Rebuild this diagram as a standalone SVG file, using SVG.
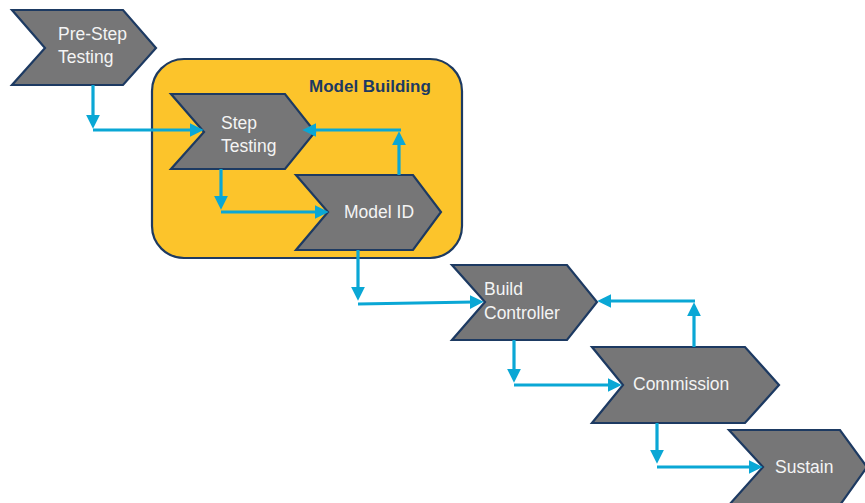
<svg xmlns="http://www.w3.org/2000/svg" width="865" height="503" viewBox="0 0 865 503">
  <style>
    .chev { fill: #767677; stroke: #1d3a62; stroke-width: 2.2; stroke-linejoin: miter; }
    .lbl { font-family: "Liberation Sans", Arial, sans-serif; font-size: 17.5px; fill: #f4f4f4; }
    .grp { fill: #fcc42b; stroke: #1d3a62; stroke-width: 2.2; }
    .grp-title { font-family: "Liberation Sans", Arial, sans-serif; font-size: 17px; font-weight: bold; fill: #1d3a62; }
    .conn { fill: none; stroke: #0aa7d5; stroke-width: 3.2; marker-end: url(#arrow); }
  </style>
  <defs>
    <marker id="arrow" markerUnits="userSpaceOnUse" markerWidth="14" markerHeight="14" viewBox="0 0 13 13" refX="4" refY="6.5" orient="auto">
      <path d="M0,0 L13,6.5 L0,13 z" fill="#0aa7d5"/>
    </marker>
  </defs>
  <rect width="865" height="503" fill="#ffffff"/>

  <!-- Model Building group -->
  <g id="model-building">
    <rect class="grp" x="152" y="59" width="310" height="199" rx="32" ry="32"/>
    <text class="grp-title" x="309" y="92">Model Building</text>
  </g>

  <g id="pre-step-testing">
    <polygon class="chev" points="12,10 123,10 156,48 123,85 12,85 45,48"/>
    <text class="lbl" x="58" y="40">Pre-Step</text>
    <text class="lbl" x="58" y="63">Testing</text>
  </g>

  <g id="step-testing">
    <polygon class="chev" points="171,94 285,94 315,132 285,169 171,169 204,132"/>
    <text class="lbl" x="221" y="129">Step</text>
    <text class="lbl" x="221" y="152">Testing</text>
  </g>

  <g id="model-id">
    <polygon class="chev" points="296,175 413,175 441,212 413,250 296,250 328,212"/>
    <text class="lbl" x="344" y="218">Model ID</text>
  </g>

  <g id="build-controller">
    <polygon class="chev" points="452,265 567,265 597,302 567,340 452,340 485,302"/>
    <text class="lbl" x="484" y="295">Build</text>
    <text class="lbl" x="484" y="319">Controller</text>
  </g>

  <g id="commission">
    <polygon class="chev" points="592,347 745,347 779,385 745,423 592,423 623,385"/>
    <text class="lbl" x="633" y="390">Commission</text>
  </g>

  <g id="sustain">
    <polygon class="chev" points="729,430 840,430 867,467 840,505 729,505 763,467"/>
    <text class="lbl" x="775" y="473">Sustain</text>
  </g>

  <!-- Connectors: each step drops down, then runs across to the next notch -->
  <g id="connectors">
    <path class="conn" d="M93,85 V119"/>
    <path class="conn" d="M93,130 H194"/>

    <path class="conn" d="M221,169 V200"/>
    <path class="conn" d="M221,212 H319"/>

    <path class="conn" d="M399,175 V141"/>
    <path class="conn" d="M401,130 H312"/>

    <path class="conn" d="M358,250 V291"/>
    <path class="conn" d="M358,304 L474,302"/>

    <path class="conn" d="M694,347 V312"/>
    <path class="conn" d="M695,301 H607"/>

    <path class="conn" d="M514,340 V373"/>
    <path class="conn" d="M514,385 H612"/>

    <path class="conn" d="M657,423 V454"/>
    <path class="conn" d="M657,467 H753"/>
  </g>
</svg>
